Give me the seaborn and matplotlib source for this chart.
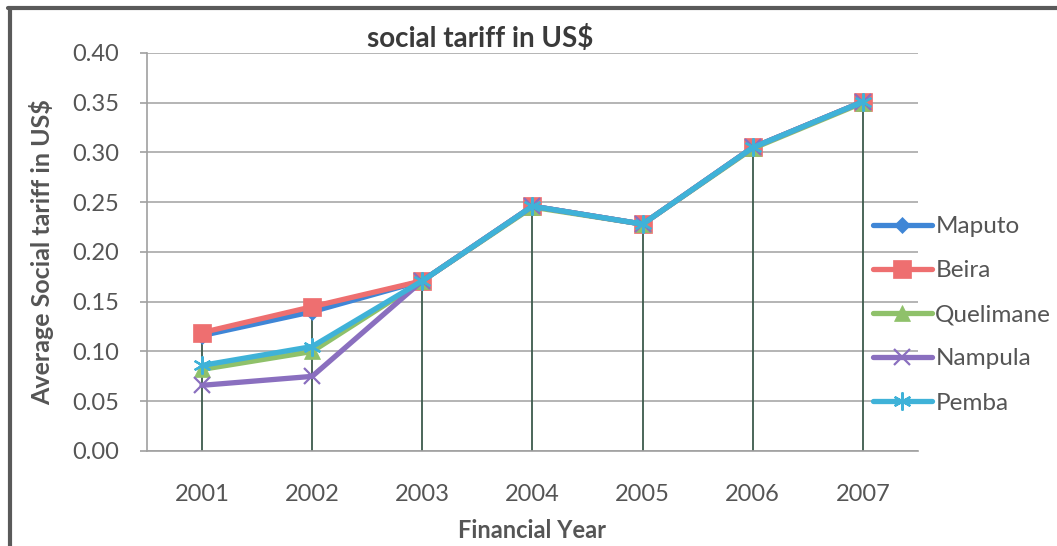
import matplotlib
matplotlib.use("Agg")
import matplotlib.pyplot as plt
import seaborn as sns
import pandas as pd
import numpy as np

years = [2001, 2002, 2003, 2004, 2005, 2006, 2007]
maputo = [0.116, 0.140, 0.171, 0.246, 0.228, 0.305, 0.351]
beira = [0.119, 0.145, 0.171, 0.246, 0.228, 0.305, 0.351]
quelimane = [0.082, 0.100, 0.171, 0.245, 0.228, 0.304, 0.350]
nampula = [0.066, 0.075, 0.171, 0.246, 0.228, 0.305, 0.351]
pemba = [0.086, 0.105, 0.171, 0.246, 0.228, 0.305, 0.351]
series_names = ["Maputo", "Beira", "Quelimane", "Nampula", "Pemba"]
yticks = [0.00, 0.05, 0.10, 0.15, 0.20, 0.25, 0.30, 0.35, 0.40]
title = "social tariff in US$"
xlabel = "Financial Year"
ylabel = "Average Social tariff in US$"

colors = ["#3f86d6", "#ee6f70", "#8fc16a", "#8a6fbf", "#3fb2d8"]
markers = ["D", "s", "^", "x", (6, 2, 0)]
msizes = [8, 13, 11, 12, 13]

sns.set_style("white")
plt.rcParams["font.family"] = ["Lato", "DejaVu Sans"]

df = pd.DataFrame({
    "year": years * 5,
    "value": maputo + beira + quelimane + nampula + pemba,
    "city": sum([[n] * len(years) for n in series_names], []),
})

fig = plt.figure(figsize=(10.57, 5.46), dpi=100)
ax = fig.add_axes([0.139, 0.174, 0.7295, 0.729])

# drop lines from the highest value to the axis
allv = np.array([maputo, beira, quelimane, nampula, pemba])
ax.vlines(years, 0, allv.max(axis=0), color="#3d5a4c", lw=1.3, zorder=1)

for i, name in enumerate(series_names):
    sub = df[df.city == name]
    sns.lineplot(data=sub, x="year", y="value", ax=ax, color=colors[i],
                 lw=3.8, marker=markers[i], markersize=msizes[i],
                 markeredgecolor=colors[i], markeredgewidth=1.6 if i >= 3 else 0.5,
                 label=name, zorder=3 + i)

ax.set_xlim(2000.5, 2007.5)
ax.set_ylim(0, 0.4)
ax.set_yticks(yticks)
ax.set_yticklabels([f"{v:.2f}" for v in yticks])
ax.set_xticks(years)
ax.set_xticklabels([str(y) for y in years])
ax.yaxis.grid(True, color="#a8a8a8", lw=1.2)
ax.set_axisbelow(True)
for s in ["top", "right"]:
    ax.spines[s].set_visible(False)
ax.spines["left"].set_color("#a0a0a0")
ax.spines["bottom"].set_color("#a0a0a0")
ax.spines["left"].set_linewidth(1.2)
ax.spines["bottom"].set_linewidth(1.2)
ax.tick_params(axis="y", length=5, width=1.2, color="#a0a0a0", labelsize=17,
               labelcolor="#555555", pad=15, left=True)
ax.tick_params(axis="x", length=0, labelsize=17, labelcolor="#555555", pad=24)

ax.set_title(title, fontsize=20, fontweight="bold", color="#3a3a3a", pad=4, x=0.432)
ax.set_xlabel(xlabel, fontsize=17, fontweight="bold", color="#555555", labelpad=10)
ax.set_ylabel(ylabel, fontsize=18, fontweight="bold", color="#555555", labelpad=13)

leg = ax.legend(loc="center left", bbox_to_anchor=(0.942, 0.342), frameon=False,
                fontsize=17.5, labelcolor="#555555", handlelength=2.4,
                handletextpad=0.15, labelspacing=0.95, borderaxespad=0, borderpad=0)

# outer frame
fig.add_artist(plt.Line2D([0.008, 1.0], [0.986, 0.986], transform=fig.transFigure,
                          color="#5a5a5a", lw=3))
fig.add_artist(plt.Line2D([0.009, 0.009], [0.0, 0.986], transform=fig.transFigure,
                          color="#5a5a5a", lw=3))

fig.savefig("out.png", dpi=100)
